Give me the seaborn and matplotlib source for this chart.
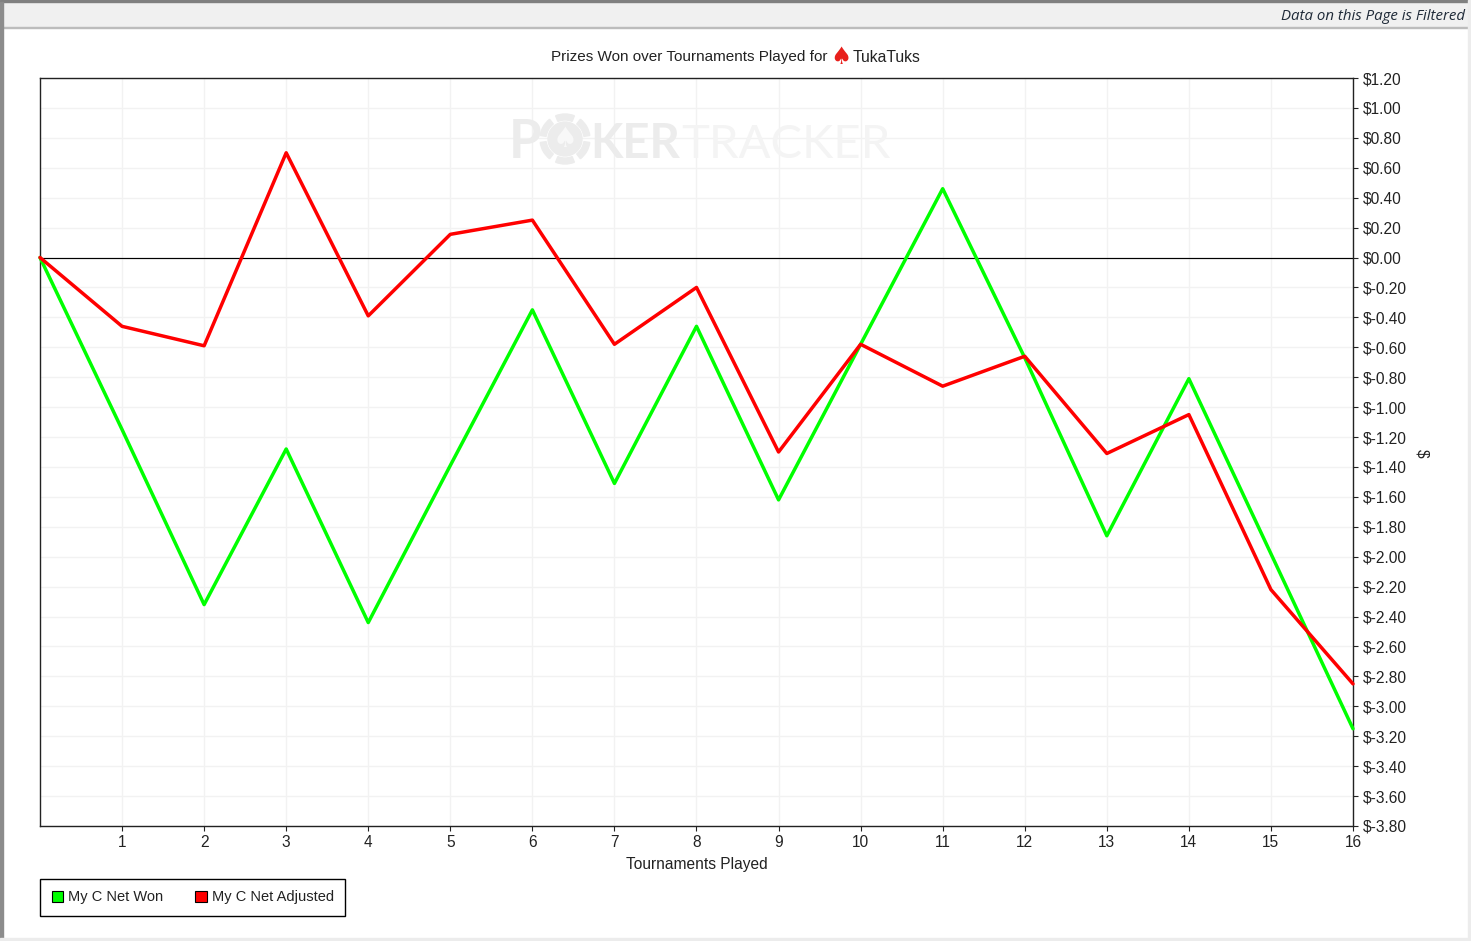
import matplotlib
matplotlib.use("Agg")
import matplotlib.pyplot as plt
from matplotlib.patches import Circle, Patch, Rectangle, Wedge
from matplotlib.transforms import IdentityTransform
import numpy as np
import pandas as pd
import seaborn as sns

tournaments = list(range(17))
net_won = [0, -1.15, -2.32, -1.28, -2.44, -1.39, -0.35, -1.51, -0.46, -1.62,
           -0.58, 0.46, -0.67, -1.86, -0.81, -1.98, -3.15]
net_adjusted = [0, -0.46, -0.59, 0.70, -0.39, 0.155, 0.25, -0.58, -0.20, -1.30,
                -0.58, -0.86, -0.66, -1.31, -1.05, -2.22, -2.85]

W, H = 1471, 941
TEXT = "#222222"

sns.set_theme(style="white")
plt.rcParams["font.family"] = ["Liberation Sans", "DejaVu Sans"]

df = pd.DataFrame({
    "Tournaments Played": tournaments * 2,
    "value": net_won + net_adjusted,
    "series": ["My C Net Won"] * 17 + ["My C Net Adjusted"] * 17,
})

fig = plt.figure(figsize=(W / 100, H / 100), dpi=100)
ax = fig.add_axes([40 / W, 1 - 826 / H, (1353 - 40) / W, (826 - 78) / H])


def fx(px):
    return px / W


def fy(px):
    return 1 - px / H


# window chrome around the chart
fig.add_artist(Rectangle((0, fy(27)), 1, 27 / H, color="#f0f0f0", zorder=0))
fig.add_artist(Rectangle((0, fy(28)), 1, 1 / H, color="#bcbcbc", zorder=0))
fig.add_artist(Rectangle((0, fy(2)), 1, 2 / H, color="#808080", zorder=0))
fig.add_artist(Rectangle((0, 0), 3 / W, fy(2), color="#8c8c8c", zorder=0))
fig.add_artist(Rectangle((fx(1468), 0), 3 / W, 1, color="#ececec", zorder=0))
fig.add_artist(Rectangle((0, 0), 1, 3 / H, color="#ececec", zorder=0))

ax.axhline(0, color="black", lw=0.85, zorder=1.5)
sns.lineplot(
    data=df, x="Tournaments Played", y="value", hue="series",
    palette={"My C Net Won": "#00ff00", "My C Net Adjusted": "#ff0000"},
    linewidth=2.5, legend=False, ax=ax, zorder=3, estimator=None, sort=False,
)
for line in ax.lines[1:]:
    line.set_clip_on(False)

ax.set_xlim(0, 16)
ax.set_ylim(-3.8, 1.2)

yticks = np.round(np.arange(-3.8, 1.21, 0.2), 1)
ylabels = [f"$-{abs(v):.2f}" if v < 0 else f"${abs(v):.2f}" for v in yticks]
ax.set_xticks(range(1, 17))
ax.set_yticks(yticks)
ax.set_yticklabels(ylabels)
ax.yaxis.tick_right()
ax.tick_params(axis="both", length=3.5, width=0.8, color="#222222",
               labelsize=11.2, labelcolor=TEXT, pad=3.5, left=False, right=True, bottom=True)
ax.tick_params(axis="x", pad=2.8)
ax.grid(True, color="#f2f2f2", lw=1.0)
ax.set_axisbelow(True)
for s in ax.spines.values():
    s.set_color("#222222")
    s.set_linewidth(1.0)

ax.set_xlabel("Tournaments Played", fontsize=11.2, color=TEXT, labelpad=5.5)
ax.set_ylabel("")
fig.text(fx(1422), fy(453), "$", rotation=270, fontsize=11.2, color=TEXT,
         ha="center", va="center")

# title pieces, the spade is red in the original
fig.text(fx(551), fy(57), "Prizes Won over Tournaments Played for", fontsize=11,
         color=TEXT, ha="left", va="center")
fig.text(fx(841), fy(57), "\u2660", fontsize=17, color="#e8201c", family="DejaVu Sans",
         ha="center", va="center")
fig.text(fx(853), fy(57), "TukaTuks", fontsize=11.3, color=TEXT, ha="left", va="center")

fig.text(fx(1465), fy(16), "Data on this Page is Filtered", fontsize=10.8, style="italic",
         family="Open Sans", color="#1f2a38", ha="right", va="center")

# watermark behind the lines
WM_DARK = "#ececec"
WM_LIGHT = "#f4f4f4"
ax.text(fx(509), fy(158), "P", fontsize=38, weight="bold", color=WM_DARK, ha="left",
        va="baseline", family="Lato", transform=fig.transFigure, zorder=1.2)
ax.text(fx(590), fy(158), "KER", fontsize=34, weight="bold", color=WM_DARK, ha="left",
        va="baseline", family="Lato", transform=fig.transFigure, zorder=1.2)
ax.text(fx(681), fy(158), "TRACKER", fontsize=34, color=WM_LIGHT, ha="left",
        va="baseline", family="Lato", transform=fig.transFigure, zorder=1.2)

# poker chip standing in for the O
chip_xy = (565, H - 139)
for start in range(0, 360, 60):
    ax.add_patch(Wedge(chip_xy, 25, start + 8, start + 52, width=6, color=WM_DARK,
                       transform=IdentityTransform(), zorder=1.2))
ax.add_patch(Circle(chip_xy, 17, color=WM_DARK, transform=IdentityTransform(), zorder=1.2))
ax.text(fx(565), fy(139), "\u2660", fontsize=20, color="#f8f8f8", family="DejaVu Sans",
        ha="center", va="center", transform=fig.transFigure, zorder=1.3)

handles = [
    Patch(facecolor="#00ff00", edgecolor="black", linewidth=0.8, label="My C Net Won"),
    Patch(facecolor="#ff0000", edgecolor="black", linewidth=0.8, label="My C Net Adjusted"),
]
leg = fig.legend(
    handles=handles, ncol=2, loc="lower left", bbox_to_anchor=(fx(40), fy(916)),
    fontsize=10.5, frameon=True, fancybox=False, framealpha=1, edgecolor="black",
    borderaxespad=0, handlelength=0.8, handleheight=0.8, handletextpad=0.35,
    columnspacing=2.15, borderpad=0.8, labelcolor=TEXT,
)
leg.get_frame().set_linewidth(1.0)

fig.savefig("out.png", dpi=100)
